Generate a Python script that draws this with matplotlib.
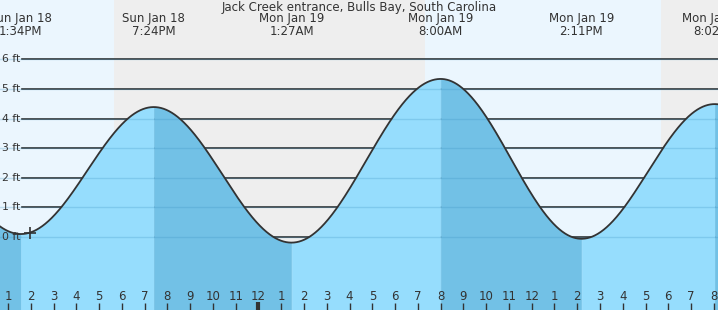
import numpy as np
import pandas as pd
import matplotlib
matplotlib.use("Agg")
import matplotlib.pyplot as plt
import matplotlib.transforms as mtransforms

# tide extremes (first and last are off-screen, only used to shape the curve ends)
extreme_times = ["2026-01-18 07:40", "2026-01-18 13:34", "2026-01-18 19:24",
                 "2026-01-19 01:27", "2026-01-19 08:00", "2026-01-19 14:11",
                 "2026-01-19 20:02", "2026-01-20 02:15"]
extreme_heights = [4.5, 0.1, 4.39, -0.19, 5.34, -0.06, 4.49, -0.1]
extreme_labels = ["", "Sun Jan 18\n1:34PM", "Sun Jan 18\n7:24PM", "Mon Jan 19\n1:27AM",
                  "Mon Jan 19\n8:00AM", "Mon Jan 19\n2:11PM", "Mon Jan 19\n8:02PM", ""]

# sunset / sunrise
sun_events = ["2026-01-18 17:39", "2026-01-19 07:18", "2026-01-19 17:40"]

hour_labels = [1, 2, 3, 4, 5, 6, 7, 8, 9, 10, 11, 12, 1, 2, 3, 4, 5, 6, 7, 8, 9, 10, 11, 12,
               1, 2, 3, 4, 5, 6, 7, 8]
ft_levels = [0, 1, 2, 3, 4, 5, 6]
now_time = "2026-01-18 13:58"
now_height = 0.13

t0 = pd.Timestamp("2026-01-18 13:00")


def hours(s):
    return (pd.Timestamp(s) - t0).total_seconds() / 3600.0


ext_t = np.array([hours(s) for s in extreme_times])
ext_h = np.array(extreme_heights)
sun_t = [hours(s) for s in sun_events]

# cosine interpolation between tide extremes
t = np.linspace(ext_t[0], ext_t[-1], 3000)
seg = np.clip(np.searchsorted(ext_t, t) - 1, 0, len(ext_t) - 2)
frac = (t - ext_t[seg]) / (ext_t[seg + 1] - ext_t[seg])
h = ext_h[seg] + (ext_h[seg + 1] - ext_h[seg]) * (1 - np.cos(np.pi * frac)) / 2

W, H = 718, 310
fig = plt.figure(figsize=(W / 100, H / 100), dpi=100)
ax = fig.add_axes([0, 0, 1, 1])
px_per_h = 22.77
px_per_ft = 29.6
xmin = -8 / px_per_h
xmax = xmin + W / px_per_h
ymax = 237 / px_per_ft
ymin = ymax - H / px_per_ft
ax.set_xlim(xmin, xmax)
ax.set_ylim(ymin, ymax)
ax.axis("off")

day_c = "#ebf6fe"
night_c = "#eeeeee"
edges = [xmin] + sun_t + [xmax]
for i in range(len(edges) - 1):
    ax.axvspan(edges[i], edges[i + 1], color=day_c if i % 2 == 0 else night_c, lw=0, zorder=0)

ytrans = mtransforms.blended_transform_factory(ax.transAxes, ax.transData)
for lv in ft_levels:
    ax.axhline(lv, xmin=22 / W, xmax=1, color="#333333", lw=1.2, zorder=1)
    ax.text(20.5 / W, lv, f"{lv} ft", transform=ytrans,
            ha="right", va="center", fontsize=7.8, color="#333333", zorder=5)

light_w = "#96ddfd"
dark_w = "#72c1e6"
for i in range(len(ext_t) - 1):
    m = (t >= ext_t[i]) & (t <= ext_t[i + 1])
    col = dark_w if ext_h[i] > ext_h[i + 1] else light_w
    ax.fill_between(t[m], ymin, h[m], facecolor=col, edgecolor=col, lw=0.5, zorder=2)

for lv in ft_levels:
    ax.axhline(lv, xmin=0, xmax=1, color="#3a8fc0", alpha=0.25, lw=1, zorder=3)

ax.plot(t, h, color="#333333", lw=1.3, zorder=4)
ax.plot([hours(now_time)], [now_height], marker="+", ms=8, mew=1.2, color="#333333", zorder=5)

blend = mtransforms.blended_transform_factory(ax.transData, ax.transAxes)
for i, lab in enumerate(hour_labels):
    x = i
    ax.text(x, (H - 296) / H, str(lab), transform=blend, ha="center", va="center",
            fontsize=8.5, color="#333333", zorder=6)
    lw = 3 if lab == 12 and i == 11 else 1
    top = (H - 302) / H if lw == 3 else (H - 303) / H
    ax.plot([x, x], [0, top], transform=blend, color="#333333", lw=lw, zorder=6,
            solid_capstyle="butt")

for tt, lab in zip(ext_t, extreme_labels):
    if lab:
        ax.text(tt, (H - 25) / H, lab, transform=blend, ha="center", va="center",
                fontsize=8.5, color="#333333", linespacing=1.0, zorder=6)

ax.text(0.5, (H - 8) / H, "Jack Creek entrance, Bulls Bay, South Carolina", transform=ax.transAxes,
        ha="center", va="center", fontsize=8.5, color="#333333", zorder=6)

fig.savefig("out.png", dpi=100)
